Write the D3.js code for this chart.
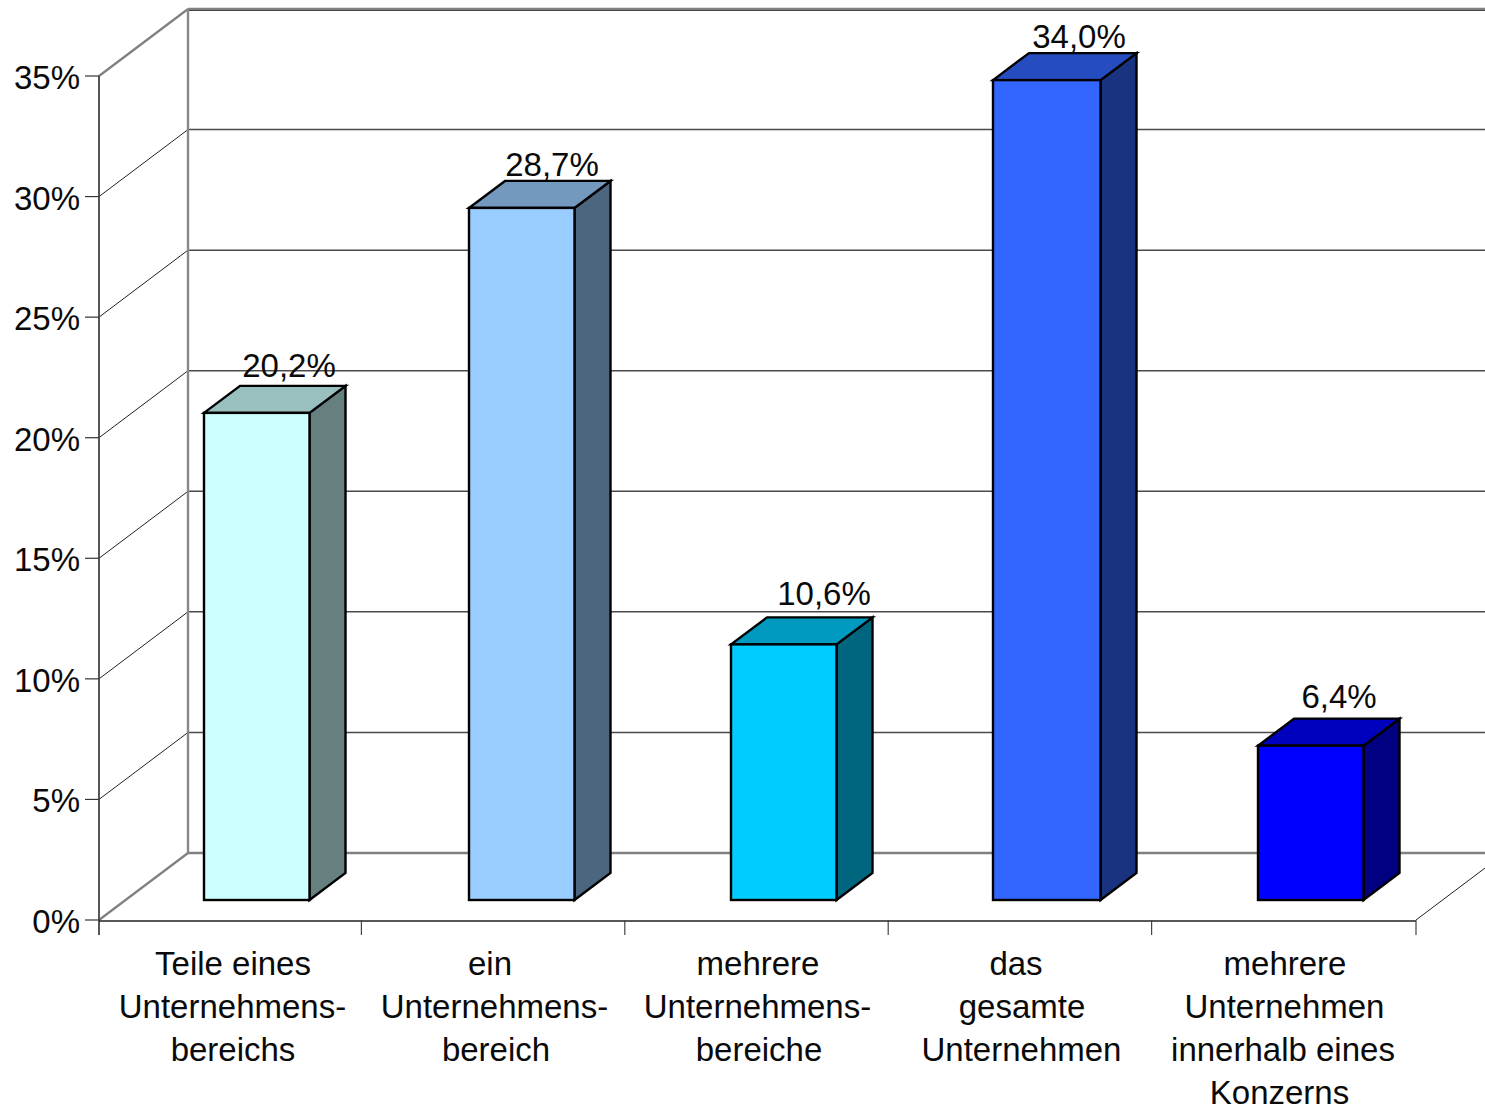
<!DOCTYPE html>
<html lang="de">
<head>
<meta charset="utf-8">
<script src="https://cdnjs.cloudflare.com/ajax/libs/d3/7.8.5/d3.min.js"></script>
<style>
  html, body { margin: 0; padding: 0; background: #fff; }
  svg { display: block; }
  text { font-family: "Liberation Sans", Arial, sans-serif; font-size: 33px; fill: #0a0a0a; }
</style>
</head>
<body>
<svg id="chart" width="1485" height="1109"></svg>
<script>
const categories = [
  ["Teile eines", "Unternehmens-", "bereichs"],
  ["ein", "Unternehmens-", "bereich"],
  ["mehrere", "Unternehmens-", "bereiche"],
  ["das", "gesamte", "Unternehmen"],
  ["mehrere", "Unternehmen", "innerhalb eines", "Konzerns"]
];
const values = [20.2, 28.7, 10.6, 34.0, 6.4];
const valueTicks = [0, 5, 10, 15, 20, 25, 30, 35];
const frontColors = ["#CCFFFF", "#99CCFF", "#00CCFF", "#3366FF", "#0000FF"];

const svg = d3.select("#chart");
const W = 1485;

// Oblique projection: the back wall sits up and to the right of the front plane.
const depth = { x: 89, y: -67 };
const barDepth = { x: 36, y: -27 };

const x = d3.scaleBand().domain(d3.range(categories.length)).range([99, 1416]);
const y = d3.scaleLinear().domain([0, 35]).range([920, 76]);
const barHeight = v => y(0) - y(v);
const barBase = 900;
const barNudge = [0, 1.6, 0.2, -1.2, 0.4];
const barLeft = i => x(i) + 105 + barNudge[i];
const barWidth = i => (i === 3 ? 107.5 : 105.5);

const fmt = v => v.toFixed(1).replace(".", ",") + "%";

// Back wall and side wall
const wall = svg.append("g").attr("fill", "none");
valueTicks.forEach(t => {
  const floor = t === 0, top = t === 35;
  wall.append("line")
    .attr("x1", 99 + depth.x).attr("x2", W)
    .attr("y1", y(t) + depth.y).attr("y2", y(t) + depth.y)
    .attr("stroke", floor || top ? "#808080" : "#4a4a4a")
    .attr("stroke-width", floor || top ? 2.5 : 1.5);
  wall.append("line")
    .attr("x1", 99).attr("y1", y(t))
    .attr("x2", 99 + depth.x).attr("y2", y(t) + depth.y)
    .attr("stroke", floor || top ? "#808080" : "#222")
    .attr("stroke-width", floor || top ? 2.2 : 1);
});
// Dark edge just below the top of the back wall
wall.append("line")
  .attr("x1", 99 + depth.x).attr("x2", W)
  .attr("y1", y(35) + depth.y + 1.5).attr("y2", y(35) + depth.y + 1.5)
  .attr("stroke", "#444").attr("stroke-width", 1);
wall.append("line")
  .attr("x1", 99 + depth.x).attr("x2", 99 + depth.x)
  .attr("y1", y(35) + depth.y).attr("y2", y(0) + depth.y)
  .attr("stroke", "#888").attr("stroke-width", 2.4);
wall.append("line")
  .attr("x1", 1416).attr("y1", y(0))
  .attr("x2", W).attr("y2", y(0) + depth.y * (W - 1416) / depth.x)
  .attr("stroke", "#222").attr("stroke-width", 1);

// Value axis
const yAxis = svg.append("g");
yAxis.append("line")
  .attr("x1", 99).attr("x2", 99).attr("y1", y(35)).attr("y2", y(0) + 15)
  .attr("stroke", "#444").attr("stroke-width", 1.8);
yAxis.selectAll("line.tick").data(valueTicks).join("line")
  .attr("class", "tick")
  .attr("x1", 85).attr("x2", 99)
  .attr("y1", d => y(d)).attr("y2", d => y(d))
  .attr("stroke", "#333").attr("stroke-width", 1.2);
yAxis.selectAll("text").data(valueTicks).join("text")
  .attr("x", 80).attr("y", d => y(d) + 13)
  .attr("text-anchor", "end")
  .text(d => d + "%");

// Category axis
const xAxis = svg.append("g");
xAxis.append("line")
  .attr("x1", 99).attr("x2", 1416).attr("y1", y(0) + 1).attr("y2", y(0) + 1)
  .attr("stroke", "#222").attr("stroke-width", 1.4);
xAxis.selectAll("line.tick").data(d3.range(1, categories.length + 1)).join("line")
  .attr("class", "tick")
  .attr("x1", d => x.step() * d + 99 - (d < 5 ? 1 : 0))
  .attr("x2", d => x.step() * d + 99 - (d < 5 ? 1 : 0))
  .attr("y1", y(0)).attr("y2", y(0) + 15)
  .attr("stroke", "#444").attr("stroke-width", 1.2);

// Horizontal centre of each wrapped category label line
const lineCentres = [
  [233, 232.5, 233],
  [490, 494.5, 496],
  [758, 757.5, 759],
  [1016, 1022, 1021.5],
  [1285, 1284.5, 1283, 1279.5]
];
categories.forEach((lines, i) => {
  lines.forEach((line, j) => {
    xAxis.append("text")
      .attr("x", lineCentres[i][j])
      .attr("y", 975 + j * 43)
      .attr("text-anchor", "middle")
      .text(line);
  });
});

// Bars: front face, top face, side face
const bars = svg.selectAll("g.bar").data(values).join("g").attr("class", "bar")
  .attr("stroke", "#000").attr("stroke-width", 2.4).attr("stroke-linejoin", "miter");

const darker = (c, k) => {
  const r = d3.rgb(c);
  return d3.rgb(r.r * k, r.g * k, r.b * k).formatHex();
};

bars.append("path")
  .attr("fill", (d, i) => darker(frontColors[i], 0.5))
  .attr("d", (d, i) => {
    const l = barLeft(i) + barWidth(i), b = barBase, t = b - barHeight(d);
    return `M${l},${b}L${l + barDepth.x},${b + barDepth.y}L${l + barDepth.x},${t + barDepth.y}L${l},${t}Z`;
  });
bars.append("path")
  .attr("fill", (d, i) => darker(frontColors[i], 0.75))
  .attr("d", (d, i) => {
    const l = barLeft(i), t = barBase - barHeight(d);
    return `M${l},${t}L${l + barDepth.x},${t + barDepth.y}L${l + barWidth(i) + barDepth.x},${t + barDepth.y}L${l + barWidth(i)},${t}Z`;
  });
bars.append("rect")
  .attr("fill", (d, i) => frontColors[i])
  .attr("x", (d, i) => barLeft(i))
  .attr("y", d => barBase - barHeight(d))
  .attr("width", (d, i) => barWidth(i))
  .attr("height", d => barHeight(d));

// Value labels above the top face
const labelCentres = [289, 552, 824, 1079, 1339];
const labelShift = [0, 4, -3, 4, -2];
svg.selectAll("text.value").data(values).join("text")
  .attr("class", "value")
  .attr("x", (d, i) => labelCentres[i])
  .attr("y", (d, i) => barBase - barHeight(d) + barDepth.y - 9 + labelShift[i])
  .attr("text-anchor", "middle")
  .text(fmt);
</script>
</body>
</html>
